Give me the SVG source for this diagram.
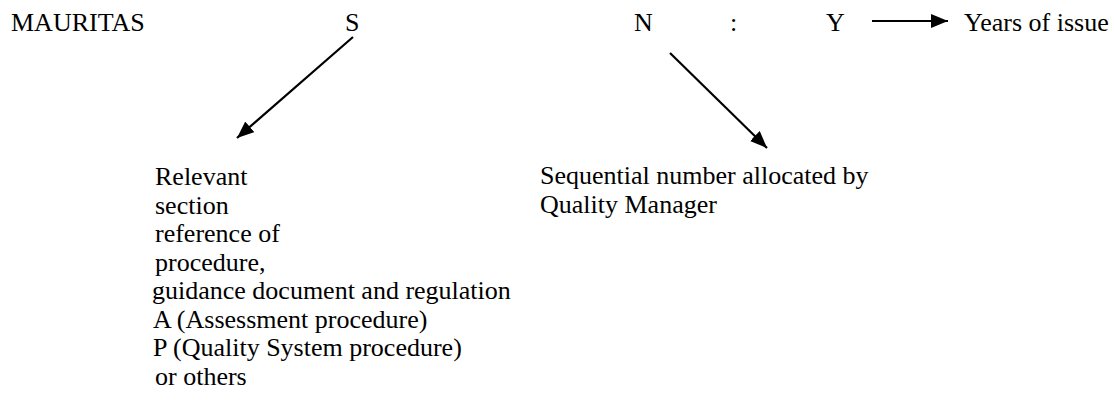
<svg xmlns="http://www.w3.org/2000/svg" width="1114" height="401" viewBox="0 0 1114 401">
<style>
text{font-family:"Liberation Serif","Times New Roman",serif;font-size:26px;fill:#000}
.c{stroke:#000;stroke-width:2.2;fill:none}
</style>
<defs>
<marker id="ah" markerUnits="userSpaceOnUse" markerWidth="18" markerHeight="15" refX="17" refY="7" orient="auto">
<path d="M0,0 L17,7 L0,14 z" fill="#000"/>
</marker>
</defs>
<rect width="1114" height="401" fill="#fff"/>
<g id="code">
<text x="11" y="31">MAURITAS</text>
<text x="345" y="31">S</text>
<text x="634" y="31">N</text>
<text x="730" y="31">:</text>
<text x="826" y="31">Y</text>
</g>
<g id="years">
<text x="964" y="31">Years of issue</text>
</g>
<g id="section">
<text x="155" y="185">Relevant</text>
<text x="155" y="214">section</text>
<text x="155" y="242">reference of</text>
<text x="155" y="271">procedure,</text>
<text x="152" y="299">guidance document and regulation</text>
<text x="153" y="328">A (Assessment procedure)</text>
<text x="153" y="356">P (Quality System procedure)</text>
<text x="155" y="385">or others</text>
</g>
<g id="sequential">
<text x="540" y="184">Sequential number allocated by</text>
<text x="540" y="213">Quality Manager</text>
</g>
<g id="connectors">
<line class="c" x1="353" y1="37" x2="237" y2="138" marker-end="url(#ah)"/>
<line class="c" x1="670" y1="53" x2="767" y2="148" marker-end="url(#ah)"/>
<line class="c" x1="872" y1="21" x2="948" y2="21" marker-end="url(#ah)"/>
</g>
</svg>
